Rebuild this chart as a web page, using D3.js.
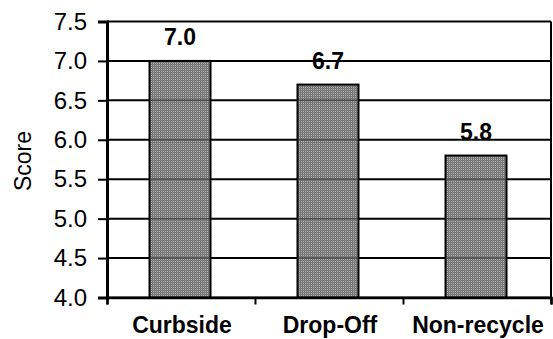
<!DOCTYPE html>
<html lang="en">
<head>
    <meta charset="UTF-8">
    <title>Score by recycling type</title>
    <style>
        body{ margin: 0; background: #fff; }
        svg{ display: block; font-family: "Liberation Sans", Arial, sans-serif; }
    </style>
</head>
<body>
    <script src="https://cdn.jsdelivr.net/npm/d3@7"></script>
    <script>
        const w = 553;
        const h = 339;

        // data
        const categories = ["Curbside", "Drop-Off", "Non-recycle"];
        const scores = [7.0, 6.7, 5.8];
        const yTicks = [4.0, 4.5, 5.0, 5.5, 6.0, 6.5, 7.0, 7.5];

        const svg = d3.select("body")
            .append("svg")
            .attr("width", w)
            .attr("height", h);

        // hatched grey fill like the old excel chart
        const pat = svg.append("defs").append("pattern")
            .attr("id", "hatch")
            .attr("patternUnits", "userSpaceOnUse")
            .attr("width", 2)
            .attr("height", 2);
        pat.append("rect").attr("width", 2).attr("height", 2).attr("fill", "#b4b4b4");
        pat.append("rect").attr("width", 1).attr("height", 2).attr("fill", "#6e6e6e");
        pat.append("rect").attr("width", 2).attr("height", 1).attr("fill", "#7a7a7a");

        const x = d3.scaleBand()
            .domain(categories)
            .range([107, 551])
            .padding(0);

        const y = d3.scaleLinear()
            .domain([4, 7.5])
            .range([297.5, 21.5]);

        // gridlines
        svg.append("g")
            .selectAll("line")
            .data(yTicks)
            .join("line")
                .attr("x1", 107)
                .attr("x2", 551)
                .attr("y1", d => y(d))
                .attr("y2", d => y(d))
                .attr("stroke", "#000")
                .attr("stroke-width", 2);

        // right border
        svg.append("line")
            .attr("x1", 551).attr("x2", 551)
            .attr("y1", y(7.5)).attr("y2", y(4))
            .attr("stroke", "#000").attr("stroke-width", 2);

        const barW = 61;

        svg.append("g")
            .selectAll("rect")
            .data(scores)
            .join("rect")
                .attr("x", (d, i) => x(categories[i]) + x.bandwidth() / 2 - 1 - barW / 2)
                .attr("y", d => y(d))
                .attr("width", barW)
                .attr("height", d => y(4) - y(d))
                .attr("fill", "url(#hatch)")
                .attr("stroke", "#000")
                .attr("stroke-width", 2);

        // gridlines faintly visible through the bars
        svg.append("g")
            .selectAll("line")
            .data(scores.map((s, i) => ({ s, c: categories[i] })))
            .join(enter => enter.append("g"))
            .each(function(b) {
                const g = d3.select(this);
                yTicks.filter(t => t < b.s && t > 4).forEach(t => {
                    g.append("line")
                        .attr("x1", x(b.c) + x.bandwidth() / 2 - 1 - barW / 2 + 1)
                        .attr("x2", x(b.c) + x.bandwidth() / 2 - 1 + barW / 2 - 1)
                        .attr("y1", y(t)).attr("y2", y(t))
                        .attr("stroke", "#333")
                        .attr("stroke-width", 1.5)
                        .attr("opacity", 0.7);
                });
            });

        // value labels
        svg.append("g")
            .selectAll("text")
            .data(scores)
            .join("text")
                .attr("x", (d, i) => x(categories[i]) + x.bandwidth() / 2 - 1)
                .attr("y", d => y(d) - 16)
                .attr("text-anchor", "middle")
                .attr("font-size", 23)
                .attr("font-weight", "bold")
                .text(d => d.toFixed(1));

        // left axis
        const yAxis = svg.append("g")
            .attr("transform", "translate(107,0)")
            .call(d3.axisLeft(y).tickValues(yTicks).tickFormat(d3.format(".1f")).tickSize(9).tickPadding(11));
        yAxis.select(".domain").attr("stroke-width", 3);
        yAxis.selectAll(".tick line").attr("stroke-width", 2);
        yAxis.selectAll(".tick text")
            .attr("font-size", 24)
            .attr("font-family", "Liberation Sans, Arial, sans-serif")
            .attr("fill", "#000");

        // bottom axis, ticks between categories
        const xb = d3.scaleLinear().domain([0, 3]).range([107, 551]);
        const xAxis = svg.append("g")
            .attr("transform", "translate(0,297.5)")
            .call(d3.axisBottom(xb).tickValues([0, 1, 2, 3]).tickSize(7).tickFormat(""));
        xAxis.select(".domain").attr("stroke-width", 2.5);
        xAxis.selectAll(".tick line").attr("stroke-width", 2);

        svg.append("g")
            .selectAll("text")
            .data(categories)
            .join("text")
                .attr("x", d => x(d) + x.bandwidth() / 2 + 1)
                .attr("y", 333)
                .attr("text-anchor", "middle")
                .attr("font-size", 23)
                .attr("font-weight", "bold")
                .text(d => d);

        // y title
        svg.append("text")
            .attr("transform", "translate(31,161) rotate(-90)")
            .attr("text-anchor", "middle")
            .attr("font-size", 23)
            .text("Score");
    </script>
</body>
</html>
